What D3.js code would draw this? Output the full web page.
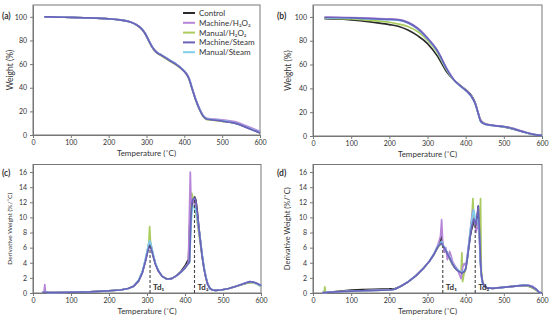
<!DOCTYPE html>
<html>
<head>
<meta charset="utf-8">
<script src="https://cdn.jsdelivr.net/npm/d3@7"></script>
<style>
  body { margin: 0; background: #fff; }
  svg text { font-family: Lato, "Open Sans", sans-serif; fill: #333; }
</style>
</head>
<body>
<svg id="chart" width="550" height="320"></svg>
<script>
// series names / colours
var seriesNames = ["Control", "Machine/H\u2082O\u2082", "Manual/H\u2082O\u2082", "Machine/Steam", "Manual/Steam"];
var seriesColors = ["#2a2a2a", "#b785d8", "#aacb5e", "#6a62bb", "#7fcfea"];
var drawOrder = [0, 2, 1, 4, 3];

var xTicks = [0, 100, 200, 300, 400, 500, 600];
var tgaTicks = [0, 20, 40, 60, 80, 100];
var dtgTicks = [0, 2, 4, 6, 8, 10, 12, 14, 16];

// (a) TGA
var tempA = [30, 60, 100, 150, 200, 230, 255, 272, 285, 295, 305, 315, 325, 340, 360, 380, 395, 405, 412, 420, 430, 440, 450, 460, 480, 500, 520, 540, 560, 580, 600];
var aControl    = [100, 99.8, 99.5, 99.1, 98.3, 97.4, 95.8, 93.5, 90.5, 86.5, 80.5, 74.5, 70.5, 67.5, 63.5, 59.5, 55.5, 52, 48, 40, 30, 22, 16, 13.5, 12.8, 12, 11, 9.5, 7, 4.5, 2];
var aMachH2O2   = [100, 99.8, 99.5, 99.1, 98.3, 97.4, 95.9, 93.6, 90.7, 86.8, 80.8, 74.8, 70.7, 67.6, 63.6, 59.6, 55.6, 52.2, 48.5, 40.5, 30.5, 22.5, 16.5, 14, 13.4, 12.8, 12, 10.8, 8.2, 5.6, 3];
var aManH2O2    = [100, 99.8, 99.5, 99.1, 98.3, 97.4, 95.8, 93.5, 90.4, 86.3, 80.2, 74.2, 70, 66.8, 62.8, 58.8, 55, 51.6, 47.5, 39.5, 29.5, 21.5, 15.5, 13, 12.4, 11.6, 10.8, 9.6, 7.5, 4.8, 2];
var aMachSteam  = [100, 99.8, 99.5, 99.1, 98.3, 97.4, 95.8, 93.5, 90.5, 86.5, 80.5, 74.5, 70.4, 67.3, 63.3, 59.3, 55.3, 51.8, 47.8, 39.8, 29.8, 21.8, 15.8, 13.3, 12.6, 11.8, 10.8, 9.4, 6.9, 4.3, 1.8];
var aManSteam   = [100, 99.8, 99.5, 99.1, 98.3, 97.4, 95.8, 93.5, 90.6, 86.6, 80.6, 74.6, 70.6, 67.6, 63.6, 59.6, 55.6, 52.1, 48.1, 40.1, 30.1, 22.1, 16.1, 13.6, 12.9, 12.1, 11.1, 9.6, 7.1, 4.6, 2.2];

// (b) TGA
var tempB = [30, 60, 100, 150, 200, 225, 250, 275, 300, 325, 350, 370, 390, 405, 415, 425, 432, 440, 450, 460, 480, 500, 520, 540, 560, 580, 600];
var bControl    = [98.5, 98.3, 97.5, 95.8, 93.5, 92, 88.8, 84, 77.6, 67.5, 54, 46.8, 41.5, 37.5, 34, 28, 20, 13, 10.5, 9.5, 8.5, 7.5, 6.2, 4.4, 2.6, 1, 0.5];
var bMachH2O2   = [99.8, 99.7, 99.4, 98.9, 98.3, 97.8, 95.5, 90.5, 82.5, 72.5, 57, 47, 41, 37.2, 33.5, 27.5, 20.5, 12.5, 10.3, 9.6, 8.8, 8, 6.8, 4.8, 2.9, 1.3, 0.6];
var bManH2O2    = [99, 98.8, 98.3, 97, 95.5, 94, 91.8, 87.5, 80.5, 70.5, 55.5, 46.5, 41, 37, 33.3, 27.3, 20, 12.3, 10.2, 9.4, 8.6, 7.8, 6.6, 4.6, 2.8, 1.2, 0.5];
var bMachSteam  = [99.5, 99.5, 99.2, 98.6, 98, 97.5, 95, 90, 82, 72, 56.6, 46.8, 41, 37, 33.3, 27.2, 20, 12, 10, 9.3, 8.5, 7.8, 6.5, 4.5, 2.7, 1.2, 0.5];
var bManSteam   = [99.3, 99.2, 98.9, 98.3, 97.6, 97, 94.6, 89.6, 81.6, 71.6, 56.2, 46.6, 40.8, 36.8, 33, 27, 19.8, 11.8, 9.9, 9.2, 8.4, 7.6, 6.4, 4.4, 2.6, 1.1, 0.5];

// (c) DTG
var tempC = [25, 29, 31, 33, 40, 60, 100, 150, 200, 230, 250, 265, 278, 288, 296, 302, 305, 307, 309, 312, 316, 322, 330, 340, 352, 365, 378, 390, 400, 406, 409, 412, 414, 416, 418, 420, 423, 426, 429, 432, 436, 440, 445, 450, 455, 460, 466, 472, 480, 495, 515, 535, 555, 570, 580, 590, 600];
var cControl    = [0.1, 0.1, 0.1, 0.1, 0.05, 0.05, 0.1, 0.15, 0.3, 0.4, 0.6, 0.9, 1.6, 2.8, 4.3, 5.6, 6.1, 6.3, 6.2, 5.8, 5.0, 3.9, 2.9, 2.2, 1.85, 1.9, 2.3, 2.9, 3.6, 4.2, 4.4, 8.8, 9.5, 10.5, 11.5, 12.3, 12.6, 12.7, 12.2, 11, 9, 7.2, 5, 3.3, 2, 1.1, 0.6, 0.4, 0.35, 0.4, 0.6, 0.9, 1.2, 1.4, 1.4, 1.2, 0.9];
var cMachH2O2   = [0.1, 0.1, 1.1, 0.1, 0.05, 0.05, 0.1, 0.15, 0.3, 0.4, 0.6, 0.9, 1.6, 2.8, 4.4, 5.8, 6.5, 6.8, 6.6, 6.0, 5.1, 3.9, 2.9, 2.2, 1.85, 1.9, 2.3, 2.8, 3.4, 3.8, 4.0, 11.5, 16.0, 11.8, 12.2, 12.4, 12.0, 11.6, 11.0, 10, 8.5, 7, 5, 3.4, 2.1, 1.2, 0.6, 0.4, 0.35, 0.4, 0.6, 0.9, 1.25, 1.5, 1.45, 1.25, 0.95];
var cManH2O2    = [0.1, 0.1, 0.1, 0.1, 0.05, 0.05, 0.1, 0.15, 0.3, 0.4, 0.6, 0.9, 1.6, 2.8, 4.4, 5.9, 6.8, 8.8, 6.9, 6.0, 5.1, 3.9, 2.9, 2.2, 1.85, 1.9, 2.3, 2.8, 3.3, 3.7, 3.9, 4.1, 8, 12, 13.2, 12.8, 12.3, 11.5, 10.5, 9.5, 8.0, 6.6, 4.8, 3.3, 2.1, 1.2, 0.6, 0.4, 0.35, 0.4, 0.6, 0.9, 1.2, 1.4, 1.35, 1.15, 0.85];
var cMachSteam  = [0.1, 0.1, 0.1, 0.1, 0.05, 0.05, 0.1, 0.15, 0.3, 0.4, 0.6, 0.9, 1.6, 2.7, 4.2, 5.5, 6.0, 6.3, 6.1, 5.7, 4.9, 3.8, 2.9, 2.2, 1.85, 1.9, 2.3, 2.8, 3.3, 3.7, 3.9, 4.2, 7.5, 10.5, 11.8, 12.3, 12.5, 12.6, 12.0, 10.8, 8.8, 7.0, 4.9, 3.2, 2.0, 1.1, 0.6, 0.4, 0.35, 0.4, 0.6, 0.9, 1.25, 1.5, 1.45, 1.25, 1.0];
var cManSteam   = [0.1, 0.1, 0.1, 0.1, 0.05, 0.05, 0.1, 0.15, 0.3, 0.4, 0.6, 0.9, 1.7, 2.9, 4.5, 6.0, 6.6, 6.9, 6.7, 6.1, 5.2, 4.0, 3.0, 2.2, 1.85, 1.9, 2.3, 2.8, 3.3, 3.7, 3.9, 4.0, 6.5, 9.0, 10.5, 11.2, 11.5, 11.3, 10.8, 10.0, 8.6, 7.2, 5.2, 3.5, 2.2, 1.2, 0.6, 0.4, 0.35, 0.4, 0.6, 0.9, 1.25, 1.45, 1.4, 1.2, 0.9];

// (d) DTG
var tempD = [25, 29, 31, 33, 40, 60, 80, 100, 130, 160, 200, 215, 230, 250, 270, 290, 305, 318, 326, 330, 334, 337, 340, 344, 348, 352, 358, 362, 366, 372, 378, 384, 388, 390, 392, 396, 400, 404, 408, 412, 416, 419, 421, 424, 427, 430, 433, 436, 439, 441, 444, 448, 455, 470, 490, 510, 530, 550, 565, 575, 585, 592, 600];
var dControl    = [0.05, 0.05, 0.05, 0.05, 0.1, 0.2, 0.3, 0.4, 0.45, 0.5, 0.55, 0.6, 0.9, 1.5, 2.3, 3.3, 4.2, 5.2, 6.0, 6.5, 7.0, 7.5, 6.4, 6.0, 5.7, 5.3, 4.6, 4.2, 3.8, 3.3, 3.0, 2.8, 2.7, 2.6, 2.6, 2.7, 3.2, 4.5, 6.0, 7.5, 8.5, 9.0, 9.5, 9.0, 8.5, 10, 11.5, 8, 4, 2.5, 1.5, 1.0, 0.7, 0.6, 0.7, 0.8, 0.9, 1.0, 0.9, 0.7, 0.4, 0.1, 0.0];
var dMachH2O2   = [0.05, 0.05, 0.05, 0.05, 0.1, 0.15, 0.2, 0.25, 0.3, 0.35, 0.4, 0.5, 0.9, 1.5, 2.3, 3.3, 4.2, 5.3, 6.2, 6.8, 7.5, 9.7, 6.6, 5.4, 6.0, 4.4, 5.5, 4.9, 4.1, 3.6, 3.2, 2.4, 1.9, 2.6, 3.4, 3.9, 3.6, 4.8, 6.5, 8.2, 10.0, 11.0, 10.5, 9.8, 8.0, 8.6, 9.5, 7.0, 3.6, 2.2, 1.3, 0.9, 0.7, 0.6, 0.7, 0.8, 0.9, 1.0, 1.0, 0.9, 0.5, 0.1, 0.0];
var dManH2O2    = [0.05, 0.05, 0.8, 0.05, 0.1, 0.15, 0.2, 0.25, 0.3, 0.35, 0.4, 0.5, 0.9, 1.5, 2.3, 3.3, 4.2, 5.2, 5.9, 6.2, 6.4, 6.6, 6.2, 5.9, 5.5, 5.1, 4.5, 4.1, 3.7, 3.3, 3.0, 2.8, 2.7, 5.3, 1.5, 2.6, 3.1, 4.4, 6.2, 8.0, 9.8, 12.5, 10.2, 9.2, 8.4, 9.0, 9.8, 8.0, 12.5, 3.0, 1.6, 1.0, 0.7, 0.6, 0.7, 0.8, 0.9, 1.0, 0.9, 0.7, 0.4, 0.1, 0.0];
var dMachSteam  = [0.05, 0.05, 0.05, 0.05, 0.1, 0.15, 0.2, 0.25, 0.3, 0.35, 0.4, 0.5, 0.9, 1.5, 2.3, 3.3, 4.2, 5.2, 6.0, 6.3, 6.5, 6.6, 6.3, 6.0, 5.6, 5.2, 4.6, 4.2, 3.8, 3.3, 3.0, 2.8, 2.7, 2.6, 2.7, 2.8, 3.2, 4.4, 6.0, 7.6, 8.8, 9.4, 9.8, 9.5, 9.0, 10.2, 11.5, 8.4, 4.2, 2.6, 1.5, 1.0, 0.7, 0.6, 0.7, 0.8, 0.9, 1.0, 1.0, 0.8, 0.5, 0.1, 0.0];
var dManSteam   = [0.05, 0.05, 0.05, 0.05, 0.1, 0.15, 0.2, 0.25, 0.3, 0.35, 0.4, 0.5, 0.9, 1.5, 2.3, 3.3, 4.2, 5.3, 6.1, 6.4, 6.6, 6.8, 6.4, 6.1, 5.7, 5.3, 4.7, 4.3, 3.9, 3.4, 3.1, 2.9, 2.8, 2.7, 2.8, 2.9, 3.3, 4.6, 6.4, 8.2, 9.6, 10.5, 11.0, 10.2, 9.4, 9.6, 9.8, 7.6, 3.8, 2.4, 1.4, 1.0, 0.7, 0.6, 0.7, 0.8, 0.9, 1.05, 1.0, 0.8, 0.5, 0.1, 0.0];

// decomposition peaks: [temperature, top value, label]
var cPeaks = [[308, 6.3, "Td\u2081"], [425, 12.6, "Td\u2082"]];
var dPeaks = [[340, 6.2, "Td\u2081"], [425, 9.2, "Td\u2082"]];

var svg = d3.select("#chart");

function drawPanel(p) {
  var x = d3.scaleLinear().domain([0, 600]).range([p.x0, p.x1]);
  var y = d3.scaleLinear().domain([0, p.ymax]).range([p.y0, p.y1]);
  var g = svg.append("g");

  // frame
  g.append("rect")
    .attr("x", p.x0).attr("y", p.y1)
    .attr("width", p.x1 - p.x0).attr("height", p.y0 - p.y1)
    .attr("fill", "none").attr("stroke", "#777").attr("stroke-width", 1);

  var xAxis = g.append("g").attr("transform", "translate(0," + p.y0 + ")")
    .call(d3.axisBottom(x).tickValues(xTicks).tickSize(3).tickSizeOuter(0).tickPadding(2));
  var yAxis = g.append("g").attr("transform", "translate(" + p.x0 + ",0)")
    .call(d3.axisLeft(y).tickValues(p.yTicks).tickSize(3).tickSizeOuter(0));
  [xAxis, yAxis].forEach(function(a) {
    a.select(".domain").attr("stroke", "#777");
    a.selectAll(".tick line").attr("stroke", "#777");
    a.selectAll(".tick text").attr("font-size", 7).attr("fill", "#444")
      .attr("font-family", "Lato, sans-serif");
  });

  var line = d3.line()
    .x(function(d) { return x(d[0]); })
    .y(function(d) { return y(d[1]); })
    .curve(p.curve);

  drawOrder.forEach(function(i) {
    var pts = p.temps.map(function(t, k) { return [t, p.series[i][k]]; });
    g.append("path").datum(pts)
      .attr("d", line)
      .attr("fill", "none")
      .attr("stroke", seriesColors[i])
      .attr("stroke-width", i == 0 ? 1.6 : 1.7)
      .attr("stroke-linejoin", "round");
  });

  if (p.peaks) {
    p.peaks.forEach(function(pk) {
      g.append("line")
        .attr("x1", x(pk[0])).attr("x2", x(pk[0]))
        .attr("y1", y(0)).attr("y2", y(pk[1]))
        .attr("stroke", "#444").attr("stroke-width", 1.1)
        .attr("stroke-dasharray", "3,2");
      g.append("text")
        .attr("x", x(pk[0]) + 3).attr("y", y(0) - 3)
        .attr("font-size", 8).attr("font-weight", "bold").attr("fill", "#222")
        .text(pk[2]);
    });
  }

  // titles
  g.append("text")
    .attr("x", (p.x0 + p.x1) / 2).attr("y", p.y0 + 21)
    .attr("text-anchor", "middle").attr("font-size", 8)
    .text("Temperature (\u02daC)");
  g.append("text")
    .attr("transform", "translate(" + p.ylx + "," + ((p.y0 + p.y1) / 2) + ") rotate(-90)")
    .attr("text-anchor", "middle").attr("font-size", p.ylSize)
    .text(p.ylabel);
  g.append("text")
    .attr("x", p.lx).attr("y", p.ly)
    .attr("font-size", 8.5).attr("font-weight", "bold").attr("fill", "#222")
    .text(p.label);
  return x;
}

drawPanel({x0: 33, x1: 260, y0: 135, y1: 5, ymax: 110, yTicks: tgaTicks,
  temps: tempA, series: [aControl, aMachH2O2, aManH2O2, aMachSteam, aManSteam],
  curve: d3.curveMonotoneX, ylabel: "Weight (%)", ylx: 13, ylSize: 8.5,
  label: "(a)", lx: 2, ly: 19});
drawPanel({x0: 313, x1: 542, y0: 136, y1: 5, ymax: 110, yTicks: tgaTicks,
  temps: tempB, series: [bControl, bMachH2O2, bManH2O2, bMachSteam, bManSteam],
  curve: d3.curveMonotoneX, ylabel: "Weight (%)", ylx: 291, ylSize: 8.5,
  label: "(b)", lx: 277, ly: 19});
drawPanel({x0: 33, x1: 261, y0: 293, y1: 164.5, ymax: 17, yTicks: dtgTicks,
  temps: tempC, series: [cControl, cMachH2O2, cManH2O2, cMachSteam, cManSteam],
  curve: d3.curveLinear, peaks: cPeaks, ylabel: "Derivative Weight (%/\u02daC)", ylx: 12, ylSize: 6.5,
  label: "(c)", lx: 2, ly: 176});
drawPanel({x0: 313, x1: 542, y0: 293, y1: 164.5, ymax: 17, yTicks: dtgTicks,
  temps: tempD, series: [dControl, dMachH2O2, dManH2O2, dMachSteam, dManSteam],
  curve: d3.curveLinear, peaks: dPeaks, ylabel: "Derivative Weight (%/\u02daC)", ylx: 290, ylSize: 7.5,
  label: "(d)", lx: 277, ly: 176});

// legend in panel (a)
var legend = svg.append("g");
seriesNames.forEach(function(name, i) {
  var ly = 13 + i * 9.8;
  legend.append("line")
    .attr("x1", 183).attr("x2", 195).attr("y1", ly).attr("y2", ly)
    .attr("stroke", seriesColors[i]).attr("stroke-width", 2);
  legend.append("text")
    .attr("x", 199).attr("y", ly + 3)
    .attr("font-size", 8).attr("fill", "#333")
    .text(name);
});
</script>
</body>
</html>
